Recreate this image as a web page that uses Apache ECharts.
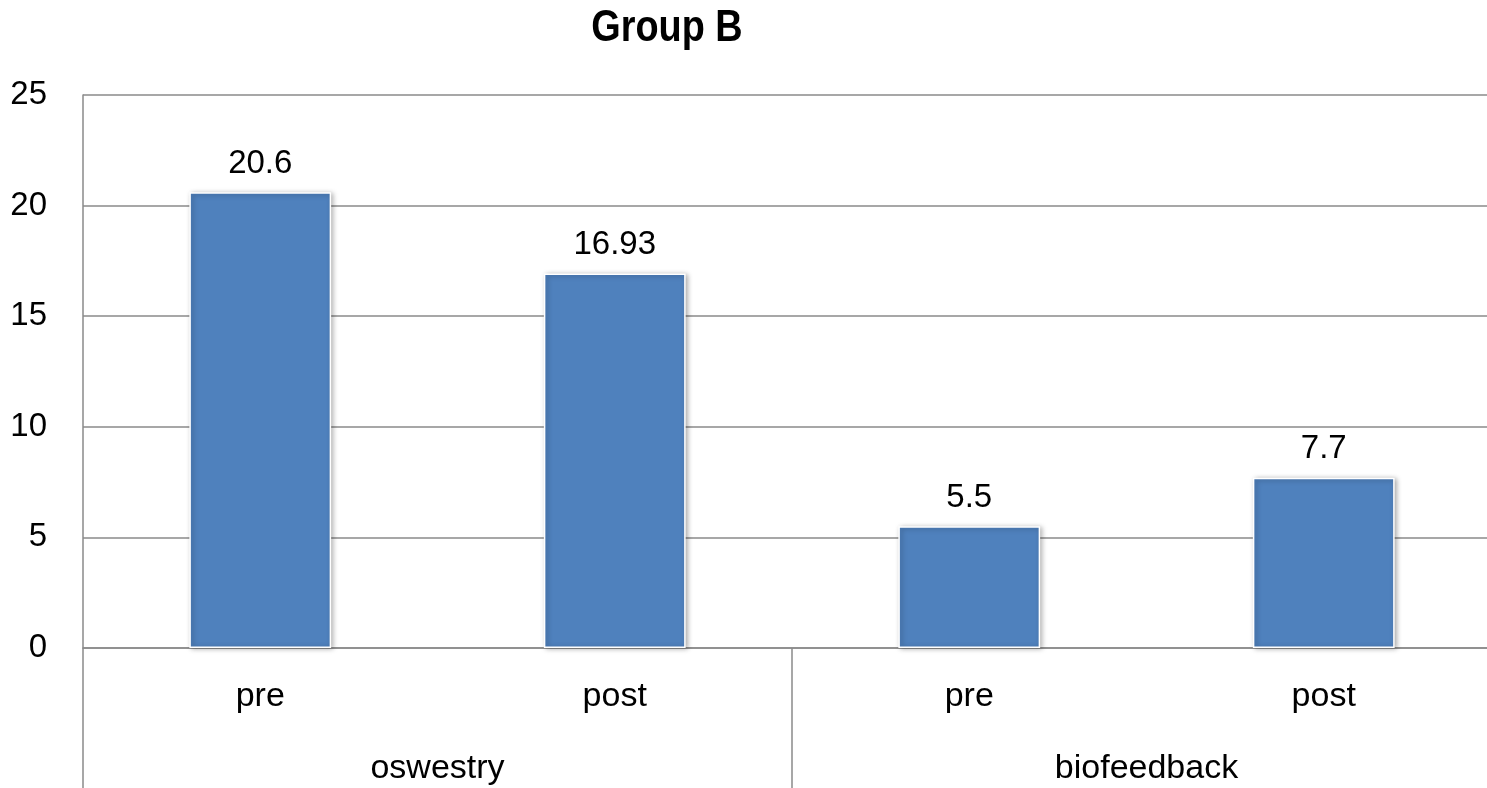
<!DOCTYPE html>
<html>
<head>
<meta charset="utf-8">
<script src="https://cdn.jsdelivr.net/npm/echarts@6/dist/echarts.min.js"></script>
<style>
  html, body { margin: 0; padding: 0; background: #fff; overflow: hidden; }
  #chart { width: 1487px; height: 788px; }
</style>
</head>
<body>
<div id="chart"></div>
<script>
// Inner categories (time point) and outer groups (measure)
const phases = ['pre', 'post', 'pre', 'post'];
const groups = ['oswestry', 'biofeedback'];
const scores = [20.6, 16.93, 5.5, 7.7];
const yTicks = { min: 0, max: 25, step: 5 };

const gray = '#8a8a8a';
const font = '"Liberation Sans", Arial, sans-serif';

const chart = echarts.init(document.getElementById('chart'));
chart.setOption({
  animation: false,
  backgroundColor: '#fff',
  // condensed bold heading
  graphic: [
    {
      type: 'text',
      x: 667,
      y: 29,
      scaleX: 0.86,
      style: {
        text: 'Group B',
        fontFamily: font,
        fontWeight: 'bold',
        fontSize: 44,
        fill: '#000',
        align: 'center',
        verticalAlign: 'middle'
      }
    }
  ],
  // plot area runs slightly past the right edge of the canvas
  grid: {
    left: 83, top: 95, width: 1418, height: 553,
    containLabel: false,
    outerBoundsMode: 'none'
  },
  xAxis: [
    {
      type: 'category',
      data: phases,
      position: 'bottom',
      axisLine: { show: true, lineStyle: { color: gray, width: 1.5 } },
      axisTick: { show: false },
      axisLabel: { margin: 32, fontSize: 34, fontFamily: font, color: '#000' }
    },
    {
      type: 'category',
      data: groups,
      position: 'bottom',
      axisLine: { show: false },
      axisTick: { show: true, length: 140, lineStyle: { color: gray, width: 1.5 } },
      axisLabel: { margin: 104, fontSize: 34, fontFamily: font, color: '#000' }
    }
  ],
  yAxis: {
    type: 'value',
    min: yTicks.min,
    max: yTicks.max,
    interval: yTicks.step,
    axisLine: { show: true, lineStyle: { color: gray, width: 1.5 } },
    axisTick: { show: false },
    splitLine: { show: true, lineStyle: { color: gray, width: 1.5 } },
    axisLabel: { margin: 36, fontSize: 33, fontFamily: font, color: '#000' }
  },
  series: [
    {
      type: 'bar',
      xAxisIndex: 0,
      data: scores,
      barWidth: '40%',
      itemStyle: {
        color: '#4f81bd',
        borderColor: '#ffffff',
        borderWidth: 1.5,
        shadowColor: 'rgba(0,0,0,0.35)',
        shadowBlur: 5,
        shadowOffsetX: 2,
        shadowOffsetY: 1
      },
      label: {
        show: true,
        position: 'top',
        distance: 12,
        fontSize: 33,
        fontFamily: font,
        color: '#000',
        formatter: p => String(p.value)
      }
    }
  ]
});
</script>
</body>
</html>
